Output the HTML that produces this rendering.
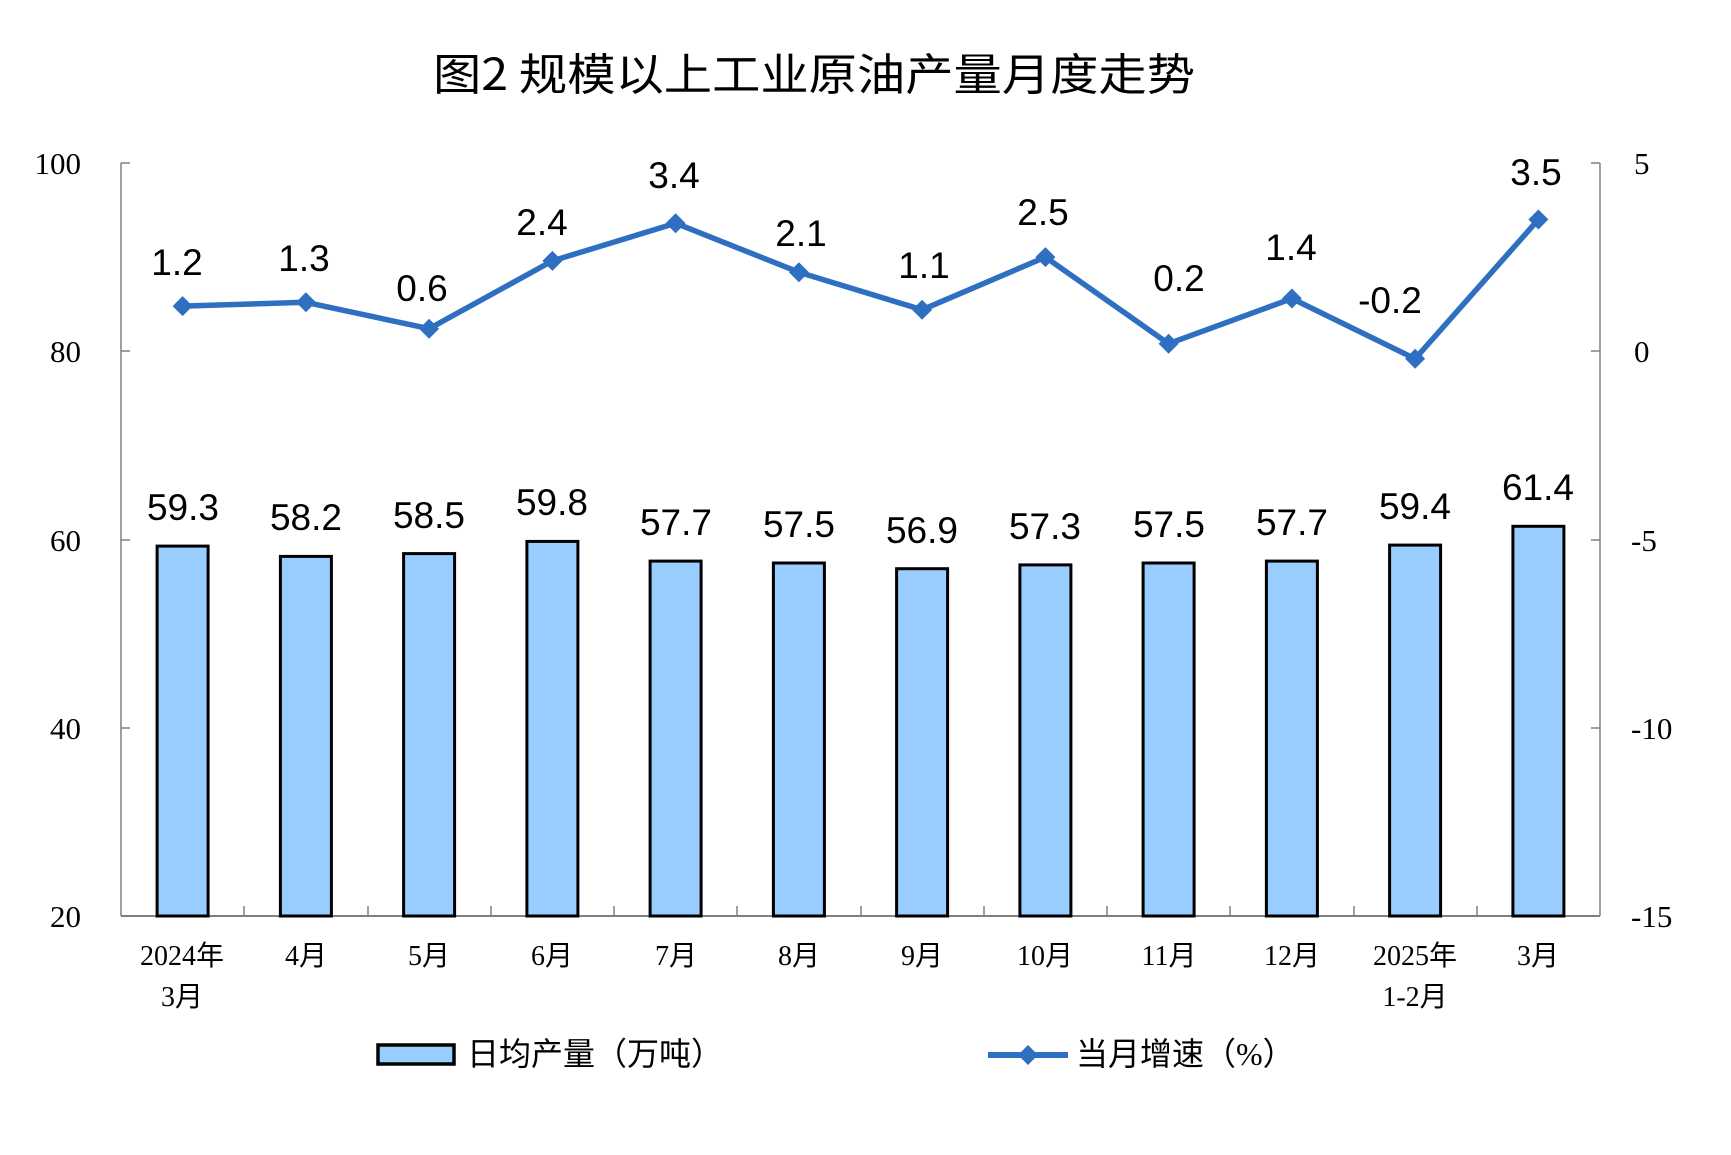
<!DOCTYPE html>
<html><head><meta charset="utf-8"><style>
html,body{margin:0;padding:0;background:#fff;}
svg{display:block;}
.t{font-family:"Liberation Serif","Noto Serif CJK SC",serif;font-size:31px;fill:#000;}
.c{font-family:"Liberation Serif","Noto Sans CJK SC",serif;font-size:28px;fill:#000;text-anchor:middle;}
.v{font-family:"Liberation Sans",sans-serif;font-size:37px;fill:#000;text-anchor:middle;}
</style></head><body>
<svg width="1731" height="1155" viewBox="0 0 1731 1155" xmlns="http://www.w3.org/2000/svg">
<text x="814" y="90" text-anchor="middle" textLength="762" lengthAdjust="spacingAndGlyphs" style="font-family:'Noto Sans CJK SC','WenQuanYi Zen Hei',sans-serif;font-size:44px;font-weight:normal;fill:#000">图2 规模以上工业原油产量月度走势</text>
<g stroke="#808080" stroke-width="1.5" fill="none">
<line x1="121" y1="163" x2="121" y2="916"/>
<line x1="1600" y1="163" x2="1600" y2="916"/>
<line x1="121" y1="916" x2="1600" y2="916" stroke-width="2"/>
<line x1="121" y1="163" x2="130" y2="163"/><line x1="121" y1="351" x2="130" y2="351"/><line x1="121" y1="540" x2="130" y2="540"/><line x1="121" y1="728" x2="130" y2="728"/>
<line x1="1591" y1="163" x2="1600" y2="163"/><line x1="1591" y1="351" x2="1600" y2="351"/><line x1="1591" y1="540" x2="1600" y2="540"/><line x1="1591" y1="728" x2="1600" y2="728"/>
<line x1="244" y1="906" x2="244" y2="916"/><line x1="368" y1="906" x2="368" y2="916"/><line x1="491" y1="906" x2="491" y2="916"/><line x1="614" y1="906" x2="614" y2="916"/><line x1="737" y1="906" x2="737" y2="916"/><line x1="861" y1="906" x2="861" y2="916"/><line x1="984" y1="906" x2="984" y2="916"/><line x1="1107" y1="906" x2="1107" y2="916"/><line x1="1230" y1="906" x2="1230" y2="916"/><line x1="1354" y1="906" x2="1354" y2="916"/><line x1="1477" y1="906" x2="1477" y2="916"/>
</g>
<g class="t" text-anchor="end">
<text x="81" y="174">100</text><text x="81" y="362">80</text><text x="81" y="551">60</text><text x="81" y="739">40</text><text x="81" y="927">20</text>
</g>
<g class="t" text-anchor="start">
<text x="1634" y="174">5</text><text x="1634" y="362">0</text><text x="1631" y="551">-5</text><text x="1631" y="739">-10</text><text x="1631" y="927">-15</text>
</g>
<g fill="#99ccff" stroke="#000" stroke-width="3">
<rect x="157.1" y="546.1" width="51" height="369.9"/>
<rect x="280.4" y="556.4" width="51" height="359.6"/>
<rect x="403.6" y="553.6" width="51" height="362.4"/>
<rect x="526.9" y="541.4" width="51" height="374.6"/>
<rect x="650.1" y="561.1" width="51" height="354.9"/>
<rect x="773.4" y="563.0" width="51" height="353.0"/>
<rect x="896.6" y="568.7" width="51" height="347.3"/>
<rect x="1019.9" y="564.9" width="51" height="351.1"/>
<rect x="1143.1" y="563.0" width="51" height="353.0"/>
<rect x="1266.4" y="561.1" width="51" height="354.9"/>
<rect x="1389.6" y="545.1" width="51" height="370.9"/>
<rect x="1512.9" y="526.3" width="51" height="389.7"/>
</g>
<g class="v">
<text x="183" y="520">59.3</text><text x="306" y="530">58.2</text><text x="429" y="528">58.5</text><text x="552" y="515">59.8</text><text x="676" y="535">57.7</text><text x="799" y="537">57.5</text><text x="922" y="543">56.9</text><text x="1045" y="539">57.3</text><text x="1169" y="537">57.5</text><text x="1292" y="535">57.7</text><text x="1415" y="519">59.4</text><text x="1538" y="500">61.4</text>
</g>
<polyline fill="none" stroke="#2e6fc1" stroke-width="5.5" stroke-linejoin="round" points="182.6,306.1 305.9,302.3 429.1,328.7 552.4,260.9 675.6,223.2 798.9,272.2 922.1,309.8 1045.4,257.1 1168.6,343.7 1291.9,298.5 1415.1,358.8 1538.4,219.5"/>
<g fill="#2e6fc1">
<path d="M182.6,296.1l10,10l-10,10l-10,-10z"/><path d="M305.9,292.3l10,10l-10,10l-10,-10z"/><path d="M429.1,318.7l10,10l-10,10l-10,-10z"/><path d="M552.4,250.9l10,10l-10,10l-10,-10z"/><path d="M675.6,213.2l10,10l-10,10l-10,-10z"/><path d="M798.9,262.2l10,10l-10,10l-10,-10z"/><path d="M922.1,299.8l10,10l-10,10l-10,-10z"/><path d="M1045.4,247.1l10,10l-10,10l-10,-10z"/><path d="M1168.6,333.7l10,10l-10,10l-10,-10z"/><path d="M1291.9,288.5l10,10l-10,10l-10,-10z"/><path d="M1415.1,348.8l10,10l-10,10l-10,-10z"/><path d="M1538.4,209.5l10,10l-10,10l-10,-10z"/>
</g>
<g class="v">
<text x="177" y="275">1.2</text><text x="304" y="271">1.3</text><text x="422" y="301">0.6</text><text x="542" y="235">2.4</text><text x="674" y="188">3.4</text><text x="801" y="246">2.1</text><text x="924" y="278">1.1</text><text x="1043" y="225">2.5</text><text x="1179" y="291">0.2</text><text x="1291" y="260">1.4</text><text x="1390" y="313">-0.2</text><text x="1536" y="185">3.5</text>
</g>
<g class="c">
<text x="182" y="965">2024年</text><text x="182" y="1006">3月</text>
<text x="306" y="965">4月</text><text x="429" y="965">5月</text><text x="552" y="965">6月</text><text x="676" y="965">7月</text><text x="799" y="965">8月</text><text x="922" y="965">9月</text><text x="1045" y="965">10月</text><text x="1169" y="965">11月</text><text x="1292" y="965">12月</text>
<text x="1415" y="965">2025年</text><text x="1415" y="1006">1-2月</text>
<text x="1538" y="965">3月</text>
</g>
<rect x="378" y="1045" width="76" height="19" fill="#99ccff" stroke="#000" stroke-width="3.5"/>
<text x="467" y="1065" style="font-family:'Liberation Serif','Noto Sans CJK SC',serif;font-size:32px;fill:#000">日均产量（万吨）</text>
<line x1="988" y1="1055" x2="1068" y2="1055" stroke="#2e6fc1" stroke-width="6"/>
<path d="M1028,1045l10,10l-10,10l-10,-10z" fill="#2e6fc1"/>
<text x="1076" y="1065" style="font-family:'Liberation Serif','Noto Sans CJK SC',serif;font-size:32px;fill:#000">当月增速（%）</text>
</svg>
</body></html>
